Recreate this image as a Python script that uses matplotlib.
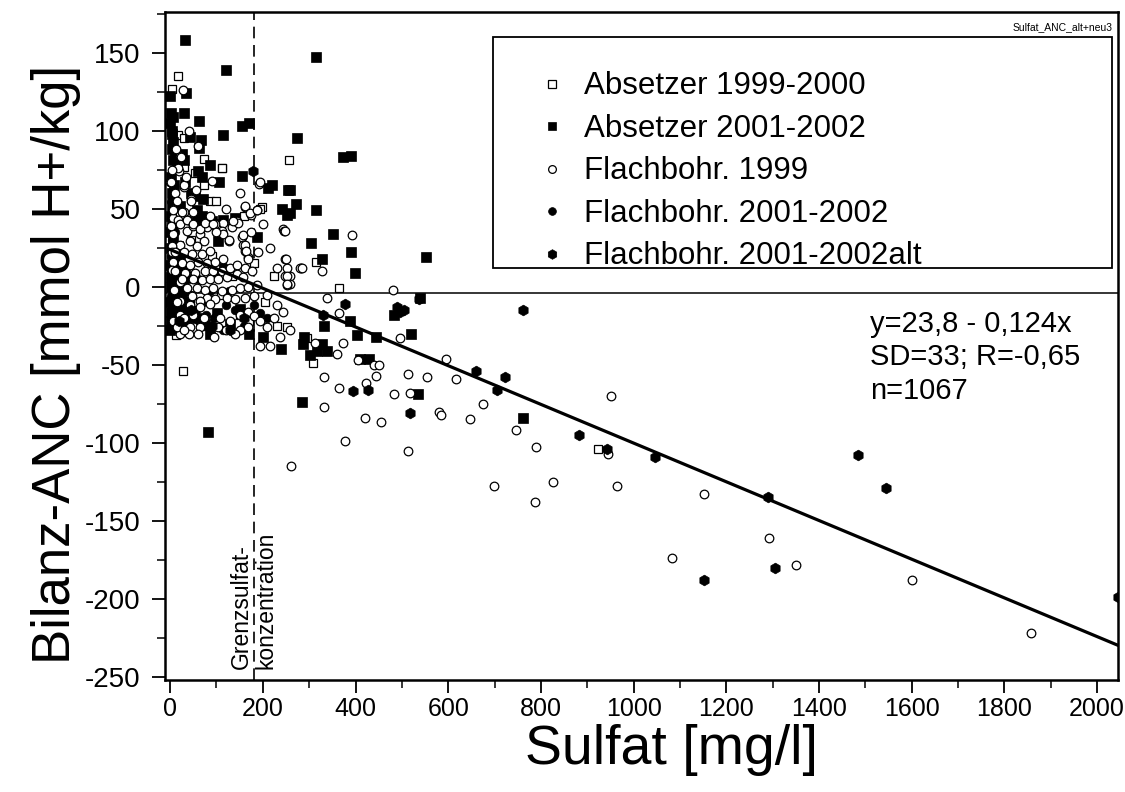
import matplotlib
matplotlib.use("Agg")
import matplotlib.pyplot as plt
from matplotlib.patches import Rectangle
from matplotlib.ticker import MultipleLocator

plt.rcParams['font.family'] = ['Liberation Sans', 'DejaVu Sans']
plt.rcParams['axes.unicode_minus'] = False

# Absetzer 1999-2000 (open squares)
abs99_x = [16, 4, 16, 73, 29, 112, 256, 54, 72, 86, 198, 314, 364, 295, 308, 924,
           133, 223, 151, 170, 21, 252, 28, 13, 40, 90, 60, 110, 180, 205, 230, 8,
           45, 160, 100, 30, 111, 194]
abs99_y = [135, 127, 97, 82, 77, 76, 81, 73, 65, 55, 51, 16, -1, -33, -49, -104,
           7, 7, -18, -22, -23, -26, -54, -31, 12, 20, -10, -5, 15, -10, -25, -15,
           30, 45, 55, 95, 76, 50]

# Absetzer 2001-2002 (filled squares)
abs01_x = [32, 121, 35, 0, 2, 7, 0, 29, 63, 155, 171, 4, 7, 4, 11, 7, 14, 43, 67, 63,
           114, 273, 25, 29, 86, 61, 68, 155, 32, 106, 212, 219, 255, 4, 7, 45, 54, 71,
           22, 58, 68, 58, 241, 252, 140, 115, 90, 93, 272, 188, 104,
           314, 373, 390, 259, 314, 259, 352, 304, 390, 552, 328, 398, 539,
           482, 388, 331, 403, 444, 520, 288, 327, 316, 338, 301, 410, 430, 534, 284,
           761, 82,
           1, 4, 7, 2, 5, 9, 3, 6, 10, 2, 13, 16, 19, 23, 27, 11, 1, 14, 21, 31,
           0, 3, 6, 1, 4, 8, 2, 5, 26, 35, 76, 86, 101, 6, 58, 130, 200, 239, 287,
           150, 170, 40,
           0, 3, 8, 12, 16, 20, 24, 29, 33, 0, 2, 5, 9, 12, 17, 25, 30, 36, 0, 18]
abs01_y = [158, 139, 124, 122, 111, 109, 105, 111, 106, 103, 105, 98, 93, 88, 85, 81,
           78, 96, 94, 89, 97, 95, 85, 81, 78, 74, 70, 71, 67, 67, 63, 65, 62, 60, 54,
           60, 58, 56, 52, 49, 45, 43, 50, 46, 44, 43, 42, 40, 53, 32, 29,
           147, 83, 84, 62, 49, 47, 34, 28, 22, 19, 18, 9, -7,
           -18, -22, -25, -31, -32, -30, -32, -37, -41, -41, -44, -46, -46, -69, -74,
           -84, -93,
           25, 18, 12, 6, 1, -4, -9, -14, -18, -22, 22, 8, -6, -12, 4, -25, -16, 0,
           18, 10, 35, 40, 30, 45, 52, 65, 70, 100, -22, -26, -24, -30, -17, -25,
           -20, -24, -32, -40, -37, -14, -30, -10,
           -28, -20, -26, -12, -20, -26, -4, -14, -22, -10, 0, 8, 16, 4, -12, 12, -2,
           -18, 14, 26]

# Flachbohrungen 1999 (open circles)
fb99_x = [27, 22, 20, 0, 192, 30, 45, 7, 29, 6, 39, 18, 162, 174, 187, 145, 115, 71,
          244, 246, 155, 158, 162, 169, 128, 393, 283, 328, 259, 259, 480, 339, 365,
          313, 374, 360, 496, 406, 440, 450, 595, 513, 554, 616, 444, 332, 422, 364,
          482, 518, 331, 581, 584, 675, 647, 746, 789, 421, 455, 378, 513, 261, 699,
          787, 826, 951, 944, 965, 1152, 1083, 1292, 1351, 1600, 1858,
          7, 2, 22, 36, 50, 65, 79, 97, 111, 133, 147, 72, 57, 43, 21, 4, 3, 11, 29,
          47, 68, 86, 7, 25, 43, 61, 79, 97, 115, 3, 11, 32, 54, 75, 93, 111, 129,
          144, 162, 176, 144, 158, 50, 68, 86, 104, 122, 21, 36, 57, 75, 93, 111,
          133, 151, 169, 187, 79, 65, 47, 97, 122, 140, 162, 180, 21, 43, 65, 86,
          50, 72, 21, 7, 43, 65, 108, 129, 151, 169, 180, 194, 208, 223, 169, 151,
          252, 248, 252, 248, 280, 244, 194, 216, 237, 259, 104, 21, 40,
          23, 18, 2, 29, 44, 7, 25, 36, 50, 65, 76, 93, 114, 128, 162, 172, 193,
          248, 158, 162, 164, 169, 250, 252, 252, 284, 187, 15, 30,
          10, 15, 35, 50, 55, 85, 100, 120, 135, 150, 60, 40, 12, 5, 90, 175, 200,
          215, 230, 190, 210, 230, 120, 140, 95, 60, 30, 15, 25, 8]
fb99_y = [126, 84, 74, 67, 66, 64, 56, 50, 48, 44, 43, 43, 51, 46, 49, 42, 41, 38,
          37, 36, 32, 27, 23, 19, 29, 33, 12, 10, 7, 2, -2, -7, -17,
          -36, -36, -43, -33, -47, -50, -50, -46, -56, -58, -59, -57, -58, -62, -65,
          -69, -68, -77, -80, -82, -75, -85, -92, -103, -84, -87, -99, -105, -115, -128,
          -138, -125, -70, -107, -128, -133, -174, -161, -178, -188, -222,
          34, 39, 40, 36, 39, 34, 38, 40, 36, 38, 41, 29, 26, 29, 27, 26, 22, 22, 22,
          21, 21, 23, 16, 15, 14, 16, 15, 16, 18, 11, 10, 9, 9, 10, 10, 10, 12,
          14, 12, 10, 8, 6, 5, 4, 5, 5, 6, 3, -1, -1, -2, -1, -3,
          -2, -1, 0, 1, -7, -9, -6, -8, -7, -8, -7, -6, -9, -12, -13, -11,
          -18, -20, -18, -22, -26, -26, -20, -22, -18, -16, -19, -22, -26, -20, -26, -28,
          1, 7, 12, 18, 12, -16, -38, -38, -32, -28, -26, -30, -30,
          83, 76, 67, 65, 55, 49, 48, 43, 40, 37, 41, 40, 34, 30, 52, 47, 67,
          36, 33, 27, 23, 18, 18, 7, 2, 12, 49, -26, -28,
          60, 55, 70, 48, 62, 45, 35, 50, 42, 60, 90, 100, 88, 75, 68, 35, 40,
          25, 12, 22, -5, -12, -28, -30, -32, -30, -20, -10, 5, -2]

# Flachbohrungen 2001-2002 (filled circles)
fb01_x = [2, 5, 8, 3, 6, 10, 4, 8, 12, 3, 15, 18, 14, 20, 22, 25, 28, 30, 12, 17, 6, 1,
          1, 9, 26, 33, 35, 38, 42, 46, 55, 62, 70, 78, 85, 95, 115, 7, 72, 115, 194,
          140, 160, 210, 180, 120, 128, 60, 100, 3, 10, 5, 2,
          4, 7, 11, 15, 19, 23, 27, 31, 1, 9]
fb01_y = [20, 15, 10, 5, 0, -5, -10, -15, -20, -24, 5, -2, -10, -15, 8, 0, -8, -18, 18,
          12, -20, -6, 10, 24, 14, -3, -12, 5, -20, -5, -15, -22, -10, -18, -3, -20, 13,
          -27, -25, -28, -17, -15, -25, -20, -12, -12, -3, 5, 8, 30, 35, 45, 55,
          -18, -6, 2, -22, 10, -20, -26, 6, -28, -12]

# Flachbohrungen 2001-2002 alt (filled hexagons)
fbalt_x = [178, 537, 378, 489, 496, 505, 761, 329, 660, 723, 706, 395, 426, 518, 882,
           1484, 1545, 1290, 1306, 1152, 943, 1046, 2045, 45, 90, 130, 20, 160]
fbalt_y = [74, -8, -11, -13, -16, -15, -15, -18, -54, -58, -66, -67, -66, -81, -95,
           -108, -129, -135, -180, -188, -104, -109, -199, -15, -25, -28, -22, -20]

# regression y = 23.8 - 0.124 x
reg_a = 23.8
reg_b = -0.124
reg_x = [0, 2045]
grenz_x = 180

fig = plt.figure(figsize=(11.25, 7.92), dpi=100)
ax = fig.add_axes([0.1467, 0.1414, 0.8471, 0.8434])

ms = 6.2
ax.plot(abs99_x, abs99_y, 's', ms=ms, mfc='white', mec='black', mew=0.9,
        label='Absetzer 1999-2000', zorder=3)
ax.plot(abs01_x, abs01_y, 's', ms=ms + 0.5, mfc='black', mec='black', mew=0.5,
        label='Absetzer 2001-2002', zorder=3)
ax.plot(fb01_x, fb01_y, 'o', ms=ms, mfc='black', mec='black', mew=0.5,
        label='Flachbohr. 2001-2002', zorder=3.5)
ax.plot(fb99_x, fb99_y, 'o', ms=ms, mfc='white', mec='black', mew=0.9,
        label='Flachbohr. 1999', zorder=4)
ax.plot(fbalt_x, fbalt_y, 'h', ms=ms + 1.5, mfc='black', mec='black', mew=0.5,
        label='Flachbohr. 2001-2002alt', zorder=4)

ax.plot(reg_x, [reg_a + reg_b * v for v in reg_x], color='black', lw=2.3, zorder=5)
ax.axhline(-4, color='black', lw=1.1, zorder=2)
ax.axvline(grenz_x, color='black', lw=1.2, ls=(0, (7, 4)), zorder=2)

ax.text(grenz_x, -245, 'Grenzsulfat-\nkonzentration', rotation=90, ha='center',
        va='bottom', multialignment='left', fontsize=16.5, linespacing=1.1)

ax.set_xlim(-11, 2045)
ax.set_ylim(-252, 176)
ax.xaxis.set_major_locator(MultipleLocator(200))
ax.xaxis.set_minor_locator(MultipleLocator(100))
ax.yaxis.set_major_locator(MultipleLocator(50))
ax.yaxis.set_minor_locator(MultipleLocator(25))
ax.tick_params(which='major', direction='out', length=9.5, width=1.3)
ax.tick_params(which='minor', direction='out', length=6, width=1.1)
ax.tick_params(axis='x', labelsize=18, pad=3)
ax.tick_params(axis='y', labelsize=20, pad=8)
for s in ax.spines.values():
    s.set_linewidth(1.8)

ax.set_xlabel('Sulfat [mg/l]', fontsize=40)
ax.xaxis.set_label_coords(0.531, -0.066)
ax.set_ylabel('Bilanz-ANC [mmol H+/kg]', fontsize=38)
ax.yaxis.set_label_coords(-0.088, 0.472)

# legend box
ax.add_patch(Rectangle((0.344, 0.617), 0.6497, 0.346, transform=ax.transAxes,
                       facecolor='white', edgecolor='black', lw=1.3, zorder=6))
handles, labels = ax.get_legend_handles_labels()
order = [0, 1, 3, 2, 4]
leg = ax.legend([handles[i] for i in order], [labels[i] for i in order],
                loc='upper left', bbox_to_anchor=(0.390, 0.911), frameon=False,
                fontsize=22.5, borderpad=0, borderaxespad=0, handlelength=1.0,
                handletextpad=0.5, labelspacing=0.40, markerscale=0.9)
leg.set_zorder(7)

ax.text(0.74, 0.554, 'y=23,8 - 0,124x\nSD=33; R=-0,65\nn=1067', transform=ax.transAxes,
        ha='left', va='top', fontsize=21, linespacing=1.25, zorder=7)
ax.text(0.994, 0.985, 'Sulfat_ANC_alt+neu3', transform=ax.transAxes, ha='right',
        va='top', fontsize=7.5, zorder=7)

fig.savefig('out.png', dpi=100)
